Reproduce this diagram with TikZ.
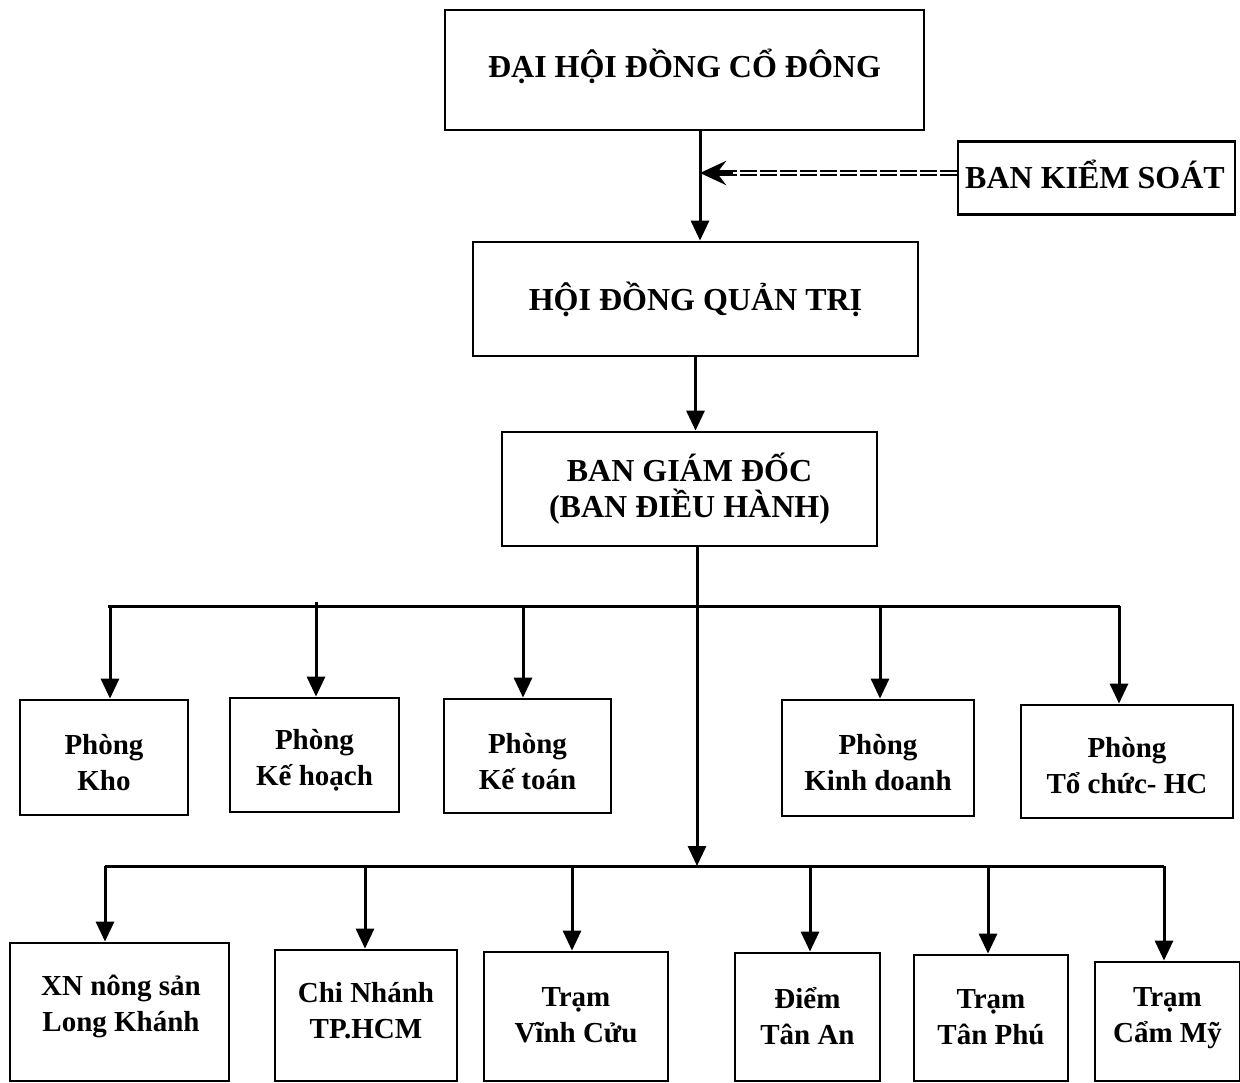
\documentclass[tikz,border=0pt]{standalone}
\usepackage{fontspec}
\setmainfont{Liberation Serif}
\usetikzlibrary{arrows.meta}
\begin{document}
\begin{tikzpicture}[x=1pt,y=-1pt,
  box/.style={draw, line width=2.8pt, align=center, inner sep=0pt, font=\bfseries\fontsize{29}{36}\selectfont},
  bigbox/.style={box, font=\bfseries\fontsize{32}{36}\selectfont},
  lbl/.style={align=center, inner sep=0pt, font=\bfseries\fontsize{29}{36}\selectfont},
  conn/.style={line width=3pt},
  arr/.style={line width=3pt, -{Triangle[length=20pt,width=18pt]}},
  dbl/.style={line width=1.4pt, double=white, double distance=2.8pt, dash pattern=on 17pt off 3pt},
  headarr/.style={line width=5.5pt, -{Stealth[length=26pt,width=24pt,inset=9pt]}}
]
\useasboundingbox (0,0) rectangle (1240,1082);

% top level
\node[bigbox, minimum width=479pt, minimum height=120pt] (dh) at (684.5,70) {};
\node[lbl, font=\bfseries\fontsize{32}{36}\selectfont] (dht) at (684.5,66) {ĐẠI HỘI ĐỒNG CỔ ĐÔNG};
\node[bigbox, minimum width=277pt, minimum height=73pt] (bks) at (1096.5,178) {};
\node[lbl, font=\bfseries\fontsize{32}{36}\selectfont] (bkst) at (1095,174) {BAN KIỂM SOÁT};
\node[bigbox, minimum width=445pt, minimum height=114pt] (hd) at (695.5,299) {HỘI ĐỒNG QUẢN TRỊ};
\node[bigbox, minimum width=375pt, minimum height=114pt] (bgd) at (689.5,489) {BAN GIÁM ĐỐC\\(BAN ĐIỀU HÀNH)};

% departments
\node[box, minimum width=168pt, minimum height=115pt] (kho) at (104,757.5) {};
\node[lbl] (khot) at (104,763) {Phòng\\Kho};
\node[box, minimum width=169pt, minimum height=114pt] (kh) at (314.5,755) {};
\node[lbl] (kht) at (314.5,760) {Phòng\\Kế hoạch};
\node[box, minimum width=167pt, minimum height=114pt] (kt) at (527.5,756) {};
\node[lbl] (ktt) at (527.5,762) {Phòng\\Kế toán};
\node[box, minimum width=192pt, minimum height=116pt] (kd) at (878,758) {};
\node[lbl] (kdt) at (878,763) {Phòng\\Kinh doanh};
\node[box, minimum width=212pt, minimum height=113pt] (tc) at (1127,761.5) {};
\node[lbl] (tct) at (1127,766) {Phòng\\Tổ chức- HC};

% units
\node[box, minimum width=219pt, minimum height=138pt] (xn) at (119.5,1012) {};
\node[lbl] (xnt) at (121,1006) {XN nông sản\\Long Khánh};
\node[box, minimum width=182pt, minimum height=131pt] (cn) at (366,1015.5) {};
\node[lbl] (cnt) at (366,1011) {Chi Nhánh\\TP.HCM};
\node[box, minimum width=184pt, minimum height=129pt] (vc) at (576,1016.5) {};
\node[lbl] (vct) at (576,1015) {Trạm\\Vĩnh Cửu};
\node[box, minimum width=145pt, minimum height=128pt] (ta) at (807.5,1017) {};
\node[lbl] (tat) at (807.5,1016) {Điểm\\Tân An};
\node[box, minimum width=154pt, minimum height=126pt] (tp) at (991,1018) {};
\node[lbl] (tpt) at (991,1017) {Trạm\\Tân Phú};
\node[box, minimum width=145pt, minimum height=119pt] (cm) at (1167.5,1021.5) {};
\node[lbl] (cmt) at (1167.5,1018) {Trạm\\Cẩm Mỹ};

% helper coordinates
\coordinate (v1) at (700,0);
\coordinate (hk) at (733,173);

% top connectors
\draw[arr] (dh.south -| v1) -- (hd.north -| v1);
\draw[dbl] (bks.west |- hk) -- (hk);
\draw[headarr] (hk) -- (hk -| v1);
\draw[arr] (hd.south) -- (hd.south |- bgd.north);

% main trunk
\draw[arr] (bgd.south -| 697,0) -- (697,866);

% bus 1
\draw[conn] (108,606) -- (1120,606);
\draw[arr] (110,606) -- (kho.north -| 110,0);
\draw[arr] (316,602) -- (kh.north -| 316,0);
\draw[arr] (523,606) -- (kt.north -| 523,0);
\draw[arr] (880,606) -- (kd.north -| 880,0);
\draw[arr] (1119,606) -- (tc.north -| 1119,0);

% bus 2
\draw[conn] (105,866) -- (1164,866);
\draw[arr] (105,866) -- (xn.north -| 105,0);
\draw[arr] (365,866) -- (cn.north -| 365,0);
\draw[arr] (572,866) -- (vc.north -| 572,0);
\draw[arr] (810,866) -- (ta.north -| 810,0);
\draw[arr] (988,866) -- (tp.north -| 988,0);
\draw[arr] (1164,866) -- (cm.north -| 1164,0);
\end{tikzpicture}
\end{document}
